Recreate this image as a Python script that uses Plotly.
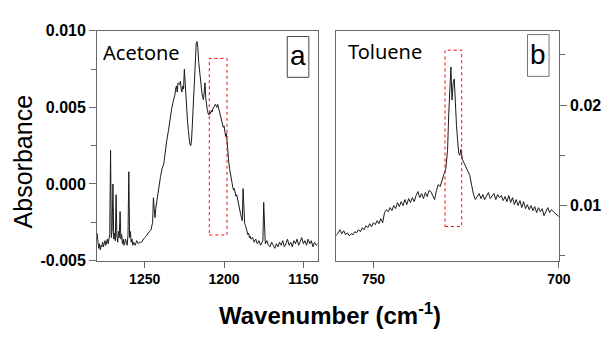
import plotly.graph_objects as go

# ---------------- data ----------------
acetone_wn = [
    1280.0, 1279.5, 1279.0, 1278.5, 1278.0, 1277.5, 1277.0, 1276.5, 1276.0, 1275.5,
    1275.0, 1274.5, 1274.0, 1273.5, 1273.0, 1272.5, 1272.0, 1271.5, 1271.0, 1270.5,
    1270.0, 1269.5, 1269.0, 1268.5, 1268.0, 1267.5, 1267.0, 1266.5, 1266.0, 1265.5,
    1265.0, 1264.5, 1264.0, 1263.5, 1263.0, 1262.5, 1262.0, 1261.5, 1261.0, 1260.5,
    1260.0, 1259.5, 1259.0, 1258.5, 1258.0, 1257.5, 1257.0, 1256.0, 1255.0, 1254.0,
    1253.0, 1252.0, 1251.0, 1250.0, 1249.0, 1248.0, 1247.0, 1246.0, 1245.0, 1244.5,
    1244.0, 1243.5, 1243.0, 1242.0, 1241.0, 1240.0, 1239.0, 1238.0, 1237.5, 1237.0,
    1236.0, 1235.0, 1234.0, 1233.0, 1232.0, 1231.0, 1230.5, 1230.0, 1229.5, 1229.0,
    1228.0, 1227.5, 1227.0, 1226.5, 1226.0, 1225.5, 1225.0, 1224.5, 1224.0, 1223.5,
    1223.0, 1222.5, 1222.0, 1221.5, 1221.0, 1220.5, 1220.0, 1219.5, 1219.0, 1218.5,
    1218.0, 1217.5, 1217.0, 1216.5, 1216.0, 1215.5, 1215.0, 1214.5, 1214.0, 1213.5,
    1213.0, 1212.5, 1212.0, 1211.5, 1211.0, 1210.5, 1210.0, 1209.5, 1209.0, 1208.5,
    1208.0, 1207.5, 1207.0, 1206.5, 1206.0, 1205.5, 1205.0, 1204.5, 1204.0, 1203.5,
    1203.0, 1202.5, 1202.0, 1201.5, 1201.0, 1200.5, 1200.0, 1199.5, 1199.0, 1198.5,
    1198.0, 1197.5, 1197.0, 1196.5, 1196.0, 1195.5, 1195.0, 1194.5, 1194.0, 1193.5,
    1193.0, 1192.5, 1192.0, 1191.5, 1191.0, 1190.5, 1190.0, 1189.5, 1189.0, 1188.5,
    1188.0, 1187.5, 1187.0, 1186.5, 1186.0, 1185.5, 1185.0, 1184.5, 1184.0, 1183.5,
    1183.0, 1182.0, 1181.0, 1180.0, 1179.0, 1178.0, 1177.0, 1176.0, 1175.5, 1175.0,
    1174.5, 1174.0, 1173.0, 1172.0, 1171.0, 1170.0, 1169.0, 1168.0, 1167.0, 1166.0,
    1165.0, 1164.0, 1163.0, 1162.0, 1161.0, 1160.0, 1159.0, 1158.0, 1157.0, 1156.0,
    1155.0, 1154.0, 1153.0, 1152.0, 1151.0, 1150.0, 1149.0, 1148.0, 1147.0, 1146.0,
    1145.0, 1144.0, 1143.0, 1142.0, 1141.0,
]
acetone_abs = [
    -0.0032, -0.0040, -0.0042, -0.0039, -0.0043, -0.0040, -0.0041, -0.0038, -0.0041, -0.0039,
    -0.0037, -0.0040, -0.0038, -0.0036, -0.0039, -0.0036, -0.0033, 0.0022, -0.0035, -0.0030,
    0.0000, -0.0036, -0.0032, -0.0037, -0.0007, -0.0034, -0.0038, -0.0031, -0.0035, -0.0018,
    -0.0036, -0.0033, -0.0039, -0.0036, -0.0040, -0.0038, -0.0036, -0.0039, -0.0040, -0.0033,
    0.0008, -0.0035, -0.0031, -0.0038, -0.0036, -0.0040, -0.0038, -0.0040, -0.0037, -0.0039,
    -0.0038, -0.0038, -0.0036, -0.0035, -0.0034, -0.0032, -0.0031, -0.0030, -0.0025, -0.0009,
    -0.0019, -0.0022, -0.0016, -0.0008, 0.0000, 0.0005, 0.0010, 0.0013, 0.0017, 0.0022,
    0.0029, 0.0035, 0.0043, 0.0049, 0.0054, 0.0058, 0.0062, 0.0064, 0.0060, 0.0066,
    0.0065, 0.0067, 0.0062, 0.0060, 0.0064, 0.0062, 0.0075, 0.0064, 0.0057, 0.0048,
    0.0041, 0.0035, 0.0030, 0.0026, 0.0025, 0.0028, 0.0038, 0.0050, 0.0062, 0.0075,
    0.0087, 0.0092, 0.0093, 0.0089, 0.0080, 0.0074, 0.0070, 0.0065, 0.0060, 0.0057,
    0.0055, 0.0060, 0.0066, 0.0056, 0.0050, 0.0048, 0.0046, 0.0045, 0.0047, 0.0046,
    0.0048, 0.0047, 0.0049, 0.0050, 0.0051, 0.0052, 0.0051, 0.0050, 0.0052, 0.0050,
    0.0047, 0.0045, 0.0043, 0.0041, 0.0040, 0.0037, 0.0038, 0.0034, 0.0031, 0.0033,
    0.0025, 0.0019, 0.0014, 0.0010, 0.0006, 0.0003, 0.0001, -0.0002, -0.0004, -0.0003,
    -0.0006, -0.0008, -0.0007, -0.0010, -0.0013, -0.0014, -0.0017, -0.0020, -0.0022, -0.0024,
    -0.0003, -0.0022, -0.0026, -0.0027, -0.0029, -0.0031, -0.0033, -0.0032, -0.0035, -0.0034,
    -0.0036, -0.0035, -0.0038, -0.0036, -0.0039, -0.0037, -0.0040, -0.0038, -0.0037, -0.0012,
    -0.0036, -0.0039, -0.0037, -0.0040, -0.0041, -0.0038, -0.0040, -0.0042, -0.0039, -0.0041,
    -0.0038, -0.0040, -0.0037, -0.0041, -0.0039, -0.0036, -0.0040, -0.0038, -0.0041, -0.0037,
    -0.0039, -0.0036, -0.0040, -0.0038, -0.0035, -0.0039, -0.0037, -0.0040, -0.0036, -0.0039,
    -0.0037, -0.0041, -0.0038, -0.0040, -0.0039,
]

toluene_wn = [
    760.0, 759.5, 759.0, 758.5, 758.0, 757.5, 757.0, 756.5, 756.0, 755.5,
    755.0, 754.5, 754.0, 753.5, 753.0, 752.5, 752.0, 751.5, 751.0, 750.5,
    750.0, 749.5, 749.0, 748.5, 748.0, 747.5, 747.0, 746.5, 746.0, 745.5,
    745.0, 744.5, 744.0, 743.5, 743.0, 742.5, 742.0, 741.5, 741.0, 740.5,
    740.0, 739.5, 739.0, 738.5, 738.0, 737.5, 737.0, 736.5, 736.0, 735.5,
    735.0, 734.5, 734.0, 733.5, 733.0, 732.5, 732.0, 731.5, 731.0, 730.5,
    730.0, 729.7, 729.4, 729.1, 728.8, 728.5, 728.2, 727.9, 727.6, 727.3,
    727.0, 726.7, 726.4, 726.0, 725.5, 725.0, 724.5, 724.0, 723.5, 723.0,
    722.5, 722.0, 721.5, 721.0, 720.5, 720.0, 719.5, 719.0, 718.5, 718.0,
    717.5, 717.0, 716.5, 716.0, 715.5, 715.0, 714.5, 714.0, 713.5, 713.0,
    712.5, 712.0, 711.5, 711.0, 710.5, 710.0, 709.5, 709.0, 708.5, 708.0,
    707.5, 707.0, 706.5, 706.0, 705.5, 705.0, 704.5, 704.0, 703.5, 703.0,
    702.5, 702.0, 701.5, 701.0, 700.5, 700.0,
]
toluene_abs = [
    0.0070, 0.0073, 0.0076, 0.0072, 0.0075, 0.0071, 0.0073, 0.0070, 0.0072, 0.0071,
    0.0074, 0.0073, 0.0076, 0.0074, 0.0078, 0.0076, 0.0080, 0.0078, 0.0082, 0.0079,
    0.0083, 0.0081, 0.0085, 0.0082, 0.0087, 0.0083, 0.0093, 0.0096, 0.0094, 0.0098,
    0.0095, 0.0100, 0.0097, 0.0103, 0.0099, 0.0104, 0.0100, 0.0106, 0.0101, 0.0107,
    0.0103, 0.0108, 0.0104, 0.0110, 0.0114, 0.0108, 0.0112, 0.0107, 0.0113, 0.0109,
    0.0115, 0.0114, 0.0110, 0.0106, 0.0115, 0.0121, 0.0119, 0.0126, 0.0131, 0.0136,
    0.0155, 0.0190, 0.0225, 0.0238, 0.0205, 0.0222, 0.0226, 0.0198, 0.0180, 0.0165,
    0.0152, 0.0150, 0.0156, 0.0146, 0.0142, 0.0139, 0.0135, 0.0130, 0.0120, 0.0111,
    0.0106, 0.0109, 0.0112, 0.0107, 0.0111, 0.0106, 0.0110, 0.0113, 0.0107, 0.0110,
    0.0112, 0.0106, 0.0111, 0.0108, 0.0110, 0.0105, 0.0109, 0.0104, 0.0110, 0.0103,
    0.0108, 0.0101, 0.0106, 0.0100, 0.0105, 0.0098, 0.0104, 0.0097, 0.0101, 0.0096,
    0.0100, 0.0095, 0.0099, 0.0093, 0.0098, 0.0094, 0.0097, 0.0090, 0.0095, 0.0098,
    0.0093, 0.0096, 0.0094, 0.0092, 0.0091, 0.0089,
]

a_xticks = [1250, 1200, 1150]
a_yticks = [-0.005, 0.000, 0.005, 0.010]
a_yticklabels = ["-0.005", "0.000", "0.005", "0.010"]
b_xticks = [750, 700]
b_yticks = [0.01, 0.02]
b_yticklabels = ["0.01", "0.02"]

a_box_x = [1209.3, 1198.1]
a_box_y = [-0.00333, 0.0082]
b_box_x = [730.7, 726.2]
b_box_y = [0.00792, 0.02547]

# ---------------- figure ----------------
W, H = 614, 337
def px(x):
    return x / W
def py(y):
    return 1 - y / H

fig = go.Figure()
fig.add_trace(go.Scatter(x=acetone_wn, y=acetone_abs, mode="lines",
                         line=dict(color="#1a1a1a", width=1), xaxis="x", yaxis="y",
                         showlegend=False, hoverinfo="skip"))
fig.add_trace(go.Scatter(x=toluene_wn, y=toluene_abs, mode="lines",
                         line=dict(color="#1a1a1a", width=1), xaxis="x2", yaxis="y2",
                         showlegend=False, hoverinfo="skip"))

tick_font = dict(family="Liberation Sans, Arial", size=16, color="black", weight="bold")
xtick_font = dict(family="Liberation Sans, Arial", size=14, color="black", weight="bold")
axcol = "#666666"

common_x = dict(showgrid=False, zeroline=False, showline=True, linecolor=axcol, linewidth=1,
                mirror=True, ticks="outside", ticklen=6, tickcolor=axcol, tickfont=xtick_font)
common_y = dict(showgrid=False, zeroline=False, showline=True, linecolor=axcol, linewidth=1,
                mirror=True, ticks="outside", ticklen=7, tickcolor=axcol, tickfont=tick_font)

fig.update_layout(
    width=W, height=H,
    margin=dict(l=0, r=0, t=0, b=0),
    paper_bgcolor="white", plot_bgcolor="white",
    xaxis=dict(domain=[px(99), px(324)], range=[1280, 1141], anchor="y",
               tickvals=a_xticks, **common_x),
    yaxis=dict(domain=[py(266), py(24)], range=[-0.005, 0.010], anchor="x",
               tickvals=a_yticks, ticktext=a_yticklabels,
               minor=dict(dtick=0.0025, tick0=0, ticks="outside", ticklen=5, tickcolor=axcol),
               **common_y),
    xaxis2=dict(domain=[px(343), px(570)], range=[760, 700], anchor="y2",
                tickvals=b_xticks, **common_x),
    yaxis2=dict(domain=[py(266), py(24)], range=[0.00453, 0.0274], anchor="x2", side="right",
                tickvals=b_yticks, ticktext=b_yticklabels,
                minor=dict(dtick=0.005, tick0=0, ticks="outside", ticklen=5, tickcolor=axcol),
                **common_y),
)

# red dotted highlight boxes
fig.add_shape(type="rect", xref="x", yref="y", x0=a_box_x[0], x1=a_box_x[1],
              y0=a_box_y[0], y1=a_box_y[1], line=dict(color="red", width=1, dash="dot"))
fig.add_shape(type="rect", xref="x2", yref="y2", x0=b_box_x[0], x1=b_box_x[1],
              y0=b_box_y[0], y1=b_box_y[1], line=dict(color="red", width=1, dash="dot"))

# panel label boxes
fig.add_shape(type="rect", xref="paper", yref="paper", x0=px(293), x1=px(315),
              y0=py(73), y1=py(30), line=dict(color="#444", width=1))
fig.add_shape(type="rect", xref="paper", yref="paper", x0=px(538), x1=px(560),
              y0=py(72), y1=py(28), line=dict(color="#777", width=1))

def note(text, x, y, size, family="Liberation Sans, Arial", xanchor="center", angle=0, weight="normal"):
    return dict(text=text, x=px(x), y=py(y), xref="paper", yref="paper", showarrow=False,
                xanchor=xanchor, yanchor="middle", textangle=angle,
                font=dict(family=family, size=size, color="black", weight=weight))

ann = [
    note("a", 304, 50, 28),
    note("b", 549, 49, 28),
    note("Acetone", 103, 47, 20, family="Noto Sans", xanchor="left"),
    note("Toluene", 353, 46, 20, family="Noto Sans", xanchor="left"),
    note("Absorbance", 23, 162, 25, angle=-90),
    note("Wavenumber (cm<sup>-1</sup>)", 337, 322, 24, weight="bold"),
]
fig.update_layout(annotations=ann)

fig.write_html("out.html")
